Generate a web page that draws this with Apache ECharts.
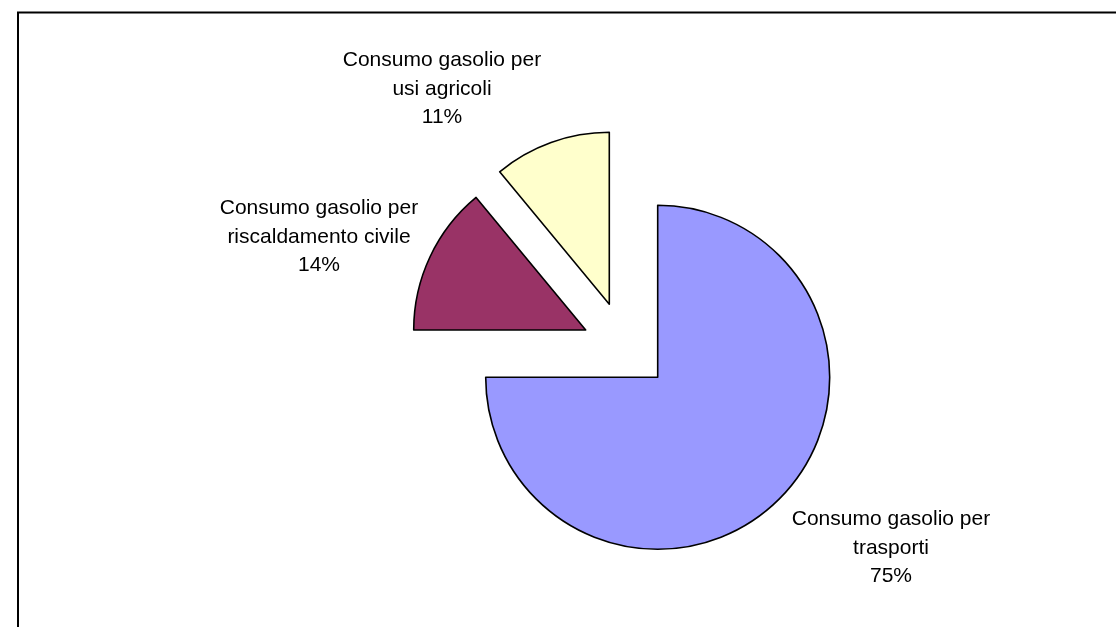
<!DOCTYPE html>
<html>
<head>
<meta charset="utf-8">
<title>Consumo gasolio</title>
<script src="https://cdn.jsdelivr.net/npm/echarts@6/dist/echarts.min.js"></script>
<style>
  html, body { margin: 0; padding: 0; background: #fff; }
  #chart { width: 1116px; height: 627px; }
</style>
</head>
<body>
<div id="chart"></div>
<script>
// Diesel consumption by use (share of total, %)
const categories = [
  'Consumo gasolio per\ntrasporti',
  'Consumo gasolio per\nriscaldamento civile',
  'Consumo gasolio per\nusi agricoli'
];
const shares = [75, 14, 11];

// Slice fills
const colors = ['#9999FF', '#993366', '#FFFFCC'];

// Pie geometry: main centre, radius, and per-slice explosion offsets (px)
const pieCenter = [657.7, 377.3];
const pieRadius = 172;
const explode = [[0, 0], [-72, -47.3], [-48.4, -73]];

// Label anchor points (centre of each text block)
const labelAnchors = [[891, 548], [319, 237], [442, 89]];

const chart = echarts.init(document.getElementById('chart'), null, { renderer: 'canvas' });

// One pie series per slice, so each slice can be pulled out on its own.
const series = categories.map(function (_, k) {
  return {
    type: 'pie',
    center: [pieCenter[0] + explode[k][0], pieCenter[1] + explode[k][1]],
    radius: pieRadius,
    startAngle: 90,
    clockwise: true,
    avoidLabelOverlap: false,
    silent: true,
    animation: false,
    emphasis: { disabled: true },
    labelLine: { show: false },
    label: {
      show: true,
      position: 'outside',
      fontFamily: '"Liberation Sans", Arial, sans-serif',
      fontSize: 21,
      lineHeight: 28.5,
      color: '#000',
      align: 'center',
      formatter: function (p) {
        return p.name + '\n' + Math.round(p.percent) + '%';
      }
    },
    labelLayout: function (p) {
      const a = labelAnchors[p.dataIndex];
      return { x: a[0], y: a[1], align: 'center', verticalAlign: 'middle' };
    },
    data: categories.map(function (name, i) {
      const on = i === k;
      return {
        name: name,
        value: shares[i],
        itemStyle: on
          ? { color: colors[i], borderColor: '#000', borderWidth: 1.6 }
          : { opacity: 0, borderWidth: 0 },
        label: { show: on }
      };
    })
  };
});

chart.setOption({
  backgroundColor: '#fff',
  animation: false,
  graphic: [{
    type: 'rect',
    shape: { x: 18, y: 12.5, width: 1200, height: 700 },
    style: { fill: 'none', stroke: '#000', lineWidth: 2 },
    silent: true,
    z: 100
  }],
  series: series
});
</script>
</body>
</html>
